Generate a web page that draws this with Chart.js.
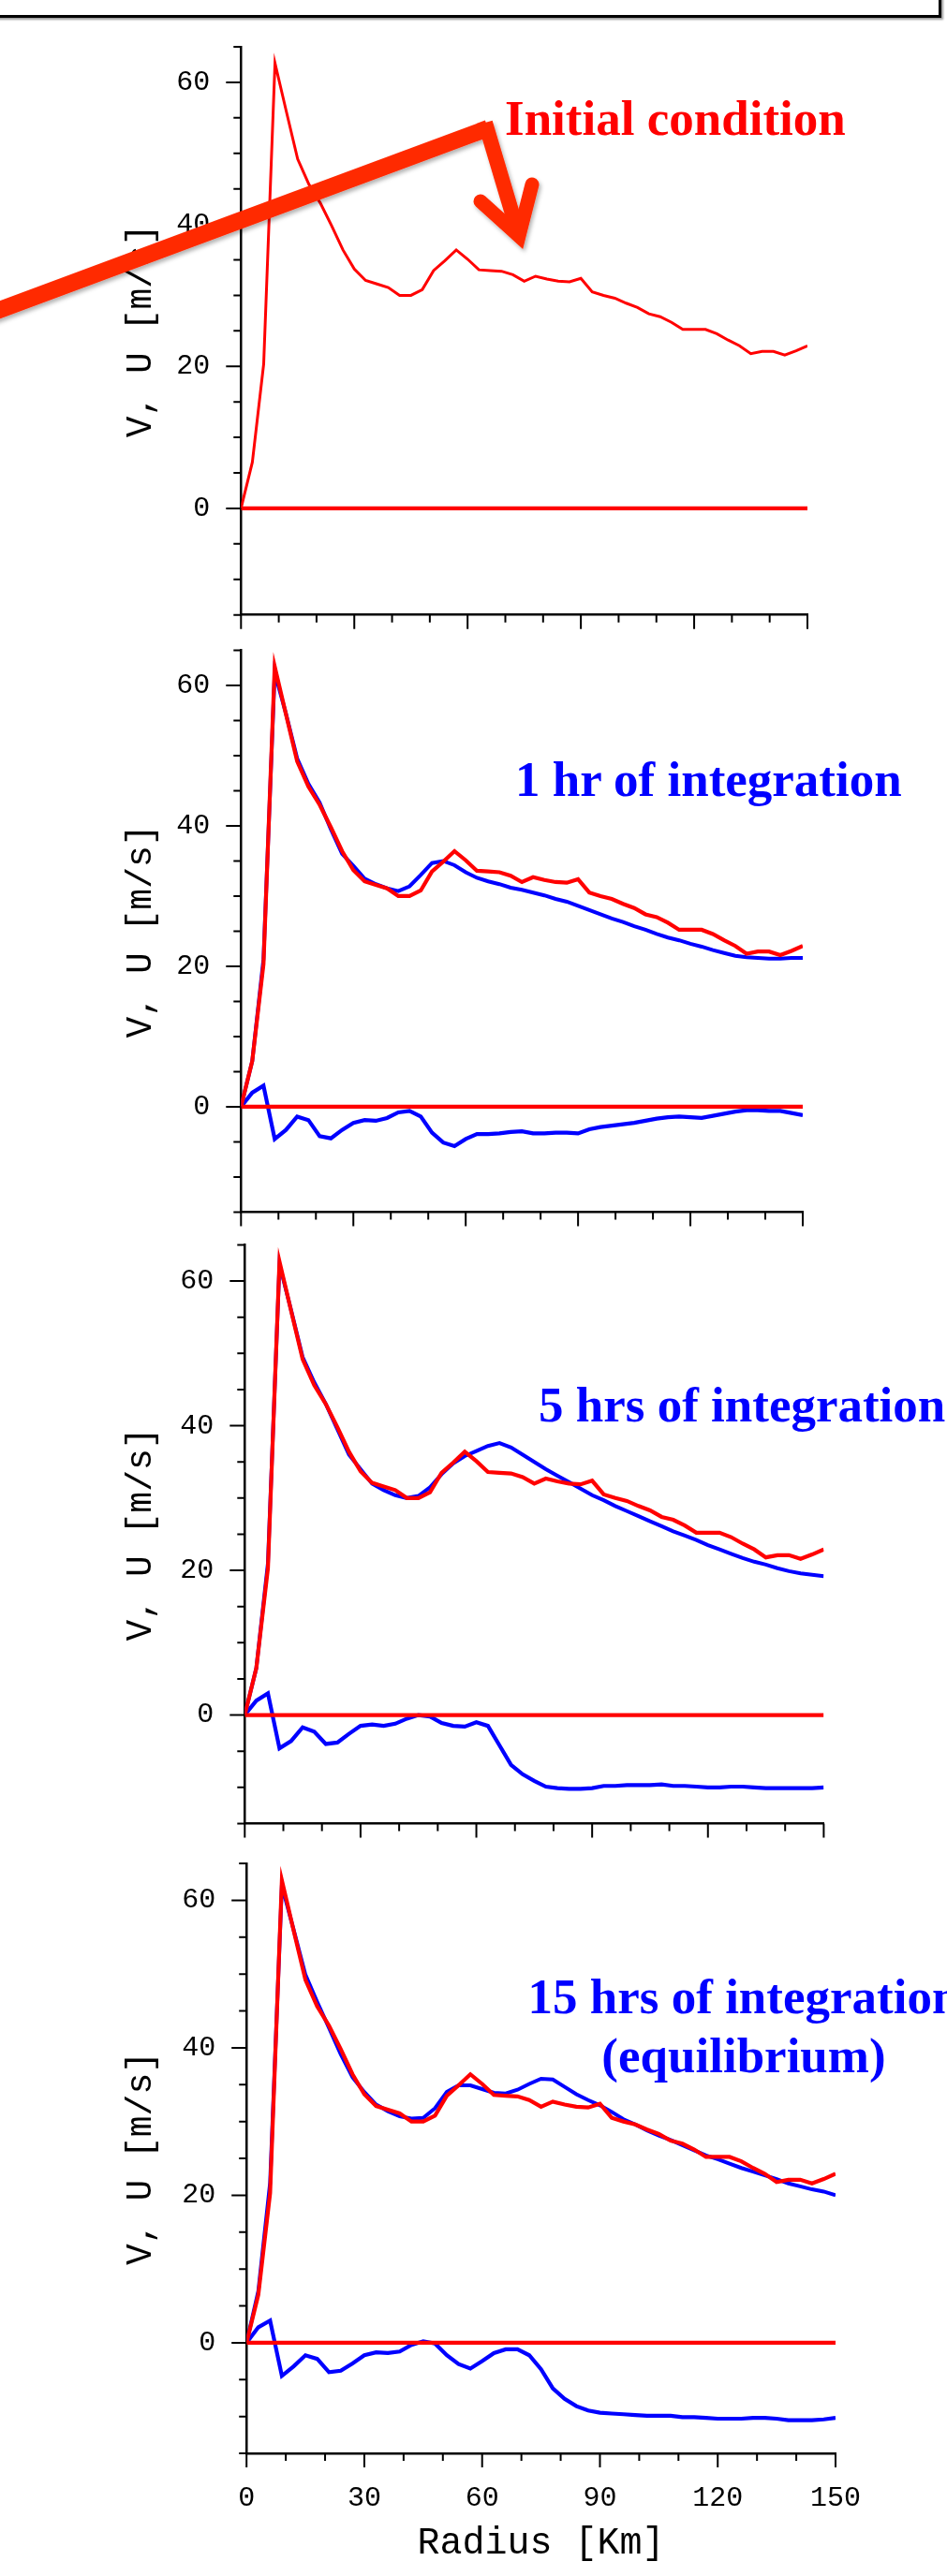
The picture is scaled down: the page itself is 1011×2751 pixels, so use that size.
<!DOCTYPE html>
<html>
<head>
<meta charset="utf-8">
<script src="https://cdn.jsdelivr.net/npm/chart.js@4.4.0/dist/chart.umd.min.js"></script>
<style>
  html, body { margin: 0; padding: 0; background: #fff; }
  body { width: 1011px; height: 2751px; position: relative; overflow: hidden; }
  canvas { position: absolute; left: 0; }
  #box { position: absolute; left: -10px; top: -10px; width: 1015px; height: 29px; box-sizing: border-box; border: 3px solid #000; box-shadow: 2px 2px 2px #999; }
  #notes { position: absolute; left: 0; top: 0; pointer-events: none; }
</style>
</head>
<body>
<div id="box"></div>
<canvas id="p1" width="1011" height="680" style="top:0px"></canvas>
<canvas id="p2" width="1011" height="636" style="top:680px"></canvas>
<canvas id="p3" width="1011" height="654" style="top:1316px"></canvas>
<canvas id="p4" width="1011" height="781" style="top:1970px"></canvas>

<svg id="notes" width="1011" height="2751" xmlns="http://www.w3.org/2000/svg">
  <defs>
    <filter id="sh" x="-20%" y="-20%" width="140%" height="140%">
      <feDropShadow dx="2" dy="3" stdDeviation="2" flood-color="#000" flood-opacity="0.3"/>
    </filter>
  </defs>
  <g filter="url(#sh)" stroke="#ff2a00" fill="none">
    <line x1="-60" y1="353" x2="521" y2="137" stroke-width="18"/>
    <line x1="518" y1="131" x2="554" y2="252" stroke-width="16"/>
    <polyline points="513,215 554,252 568,197" stroke-width="15" stroke-linecap="round" stroke-linejoin="miter" stroke-miterlimit="10"/>
  </g>
  <g font-family="'Liberation Serif', 'Times New Roman', serif" font-weight="bold" font-size="53">
    <text x="539" y="144" fill="#ff0000">Initial condition</text>
    <text x="550" y="850" fill="#0000ff">1 hr of integration</text>
    <text x="575" y="1518" fill="#0000ff">5 hrs of integration</text>
    <text x="794" y="2150" text-anchor="middle" fill="#0000ff">15 hrs of integration</text>
    <text x="794" y="2213" text-anchor="middle" fill="#0000ff">(equilibrium)</text>
  </g>
</svg>

<script>
// radius in km (every 3 km)
const radius = [0, 3, 6, 9, 12, 15, 18, 21, 24, 27, 30, 33, 36, 39, 42, 45, 48, 51, 54, 57, 60,
  63, 66, 69, 72, 75, 78, 81, 84, 87, 90, 93, 96, 99, 102, 105, 108, 111, 114, 117, 120,
  123, 126, 129, 132, 135, 138, 141, 144, 147, 150];

// initial condition (red)
const vInit = [0, 6.5, 20.3, 62.7, 55.9, 49.2, 45.6, 43.0, 39.8, 36.4, 33.7, 32.1, 31.6, 31.1, 30.0, 30.0, 30.8,
  33.5, 34.9, 36.4, 35.1, 33.6, 33.5, 33.4, 32.9, 32.0, 32.7, 32.3, 32.0, 31.9, 32.4, 30.5, 30.0, 29.6,
  28.9, 28.3, 27.4, 27.0, 26.2, 25.2, 25.2, 25.2, 24.6, 23.7, 22.9, 21.8, 22.1, 22.1, 21.6, 22.2, 22.9];
const uInit = [0, 0, 0, 0, 0, 0, 0, 0, 0, 0, 0, 0, 0, 0, 0, 0, 0, 0, 0, 0, 0, 0, 0, 0, 0, 0,
  0, 0, 0, 0, 0, 0, 0, 0, 0, 0, 0, 0, 0, 0, 0, 0, 0, 0, 0, 0, 0, 0, 0, 0, 0];

// 1 hr
const v1h = [0, 6.5, 21, 61.8, 56, 49.6, 46, 43.3, 39.5, 36, 34.3, 32.5, 31.7, 31.1, 30.7, 31.4, 33.0,
  34.7, 35.0, 34.4, 33.4, 32.6, 32.1, 31.7, 31.2, 30.9, 30.5, 30.1, 29.6, 29.2, 28.6, 28.0, 27.4, 26.8,
  26.3, 25.7, 25.2, 24.6, 24.1, 23.7, 23.2, 22.8, 22.3, 21.9, 21.5, 21.3, 21.2, 21.1, 21.1, 21.2, 21.2];
const u1h = [0, 2.0, 3.0, -4.6, -3.3, -1.4, -1.9, -4.2, -4.5, -3.3, -2.3, -1.9, -2.0, -1.6, -0.8, -0.6, -1.4,
  -3.7, -5.1, -5.6, -4.6, -3.9, -3.9, -3.8, -3.6, -3.5, -3.8, -3.8, -3.7, -3.7, -3.8, -3.2, -2.9, -2.7,
  -2.5, -2.3, -2.0, -1.7, -1.5, -1.4, -1.5, -1.6, -1.3, -1.0, -0.7, -0.5, -0.5, -0.6, -0.6, -0.9, -1.2];

// 5 hrs
const v5h = [0, 6.5, 21, 62.3, 56, 49.5, 46, 43, 39.5, 36, 34, 32.0, 31.1, 30.4, 30.0, 30.3, 31.5,
  33.3, 34.8, 35.8, 36.5, 37.2, 37.6, 37.0, 36.0, 35.0, 34.0, 33.1, 32.2, 31.3, 30.4, 29.7, 28.9, 28.2,
  27.5, 26.8, 26.1, 25.4, 24.8, 24.2, 23.5, 22.9, 22.3, 21.7, 21.2, 20.8, 20.3, 19.9, 19.6, 19.4, 19.2];
const u5h = [0, 2.0, 3.0, -4.6, -3.6, -1.7, -2.3, -4.0, -3.8, -2.6, -1.5, -1.3, -1.5, -1.2, -0.5, 0.0, -0.2,
  -1.1, -1.5, -1.6, -1.0, -1.5, -4.2, -6.9, -8.2, -9.1, -9.9, -10.1, -10.2, -10.2, -10.1, -9.8, -9.8, -9.7,
  -9.7, -9.7, -9.6, -9.8, -9.8, -9.9, -10.0, -10.0, -9.9, -9.9, -10.0, -10.1, -10.1, -10.1, -10.1, -10.1, -10.0];

// 15 hrs (equilibrium)
const v15h = [0, 7.0, 21.7, 62.0, 56, 49.9, 46.2, 42.7, 39.1, 36.0, 34.0, 32.3, 31.4, 30.7, 30.4, 30.5, 31.8,
  34.0, 34.9, 34.9, 34.4, 33.9, 33.8, 34.3, 35.1, 35.8, 35.7, 34.7, 33.7, 32.9, 32.2, 31.3, 30.3, 29.6,
  28.8, 28.1, 27.5, 26.8, 26.1, 25.4, 24.9, 24.3, 23.7, 23.2, 22.7, 22.2, 21.6, 21.2, 20.8, 20.5, 20.0];
const u15h = [0, 2.1, 3.0, -4.5, -3.2, -1.7, -2.2, -4.0, -3.8, -2.8, -1.7, -1.3, -1.4, -1.2, -0.3, 0.2, -0.1,
  -1.7, -2.9, -3.5, -2.5, -1.4, -0.9, -0.9, -1.7, -3.6, -6.2, -7.6, -8.6, -9.2, -9.5, -9.6, -9.7, -9.8,
  -9.9, -9.9, -9.9, -10.1, -10.1, -10.2, -10.3, -10.3, -10.3, -10.2, -10.2, -10.3, -10.5, -10.5, -10.5, -10.4, -10.2];

const yTickLabels = [0, 20, 40, 60];
const xTickLabels = [0, 30, 60, 90, 120, 150];

const RED = '#ff0000';
const BLUE = '#0000ff';
const MONO = "'Liberation Mono', 'Courier New', monospace";

function pts(ys) {
  return radius.map((r, i) => ({ x: r, y: ys[i] }));
}

function line(ys, color, w) {
  return { data: pts(ys), borderColor: color, borderWidth: w, pointRadius: 0, tension: 0, fill: false };
}

// major + minor tick marks, drawn outside the axes
const tickMarks = {
  id: 'tickMarks',
  afterDraw(chart) {
    const { ctx, chartArea: a, scales: { x, y } } = chart;
    ctx.save();
    ctx.strokeStyle = '#000';
    ctx.lineWidth = 2;
    ctx.beginPath();
    for (let v = -15; v <= 65; v += 5) {
      const py = y.getPixelForValue(v);
      const len = v % 20 === 0 ? 16 : 8;
      ctx.moveTo(a.left - len, py);
      ctx.lineTo(a.left, py);
    }
    for (let v = 0; v <= 150; v += 10) {
      const px = x.getPixelForValue(v);
      const len = v % 30 === 0 ? 15 : 8;
      ctx.moveTo(px, a.bottom);
      ctx.lineTo(px, a.bottom + len);
    }
    ctx.stroke();
    ctx.restore();
  }
};

// box: chart area edges in canvas pixels
function makePanel(id, box, datasets, last) {
  const canvas = document.getElementById(id);
  return new Chart(canvas, {
    type: 'line',
    data: { datasets },
    options: {
      responsive: false,
      animation: false,
      layout: { padding: { left: 0, top: box.top, right: 1011 - box.right, bottom: 0 } },
      plugins: { legend: { display: false }, tooltip: { enabled: false } },
      scales: {
        x: {
          type: 'linear', min: 0, max: 150,
          grid: { display: false, drawTicks: false },
          border: { display: true, color: '#000', width: 2.5 },
          afterBuildTicks: s => { s.ticks = xTickLabels.map(v => ({ value: v })); },
          afterFit: s => { s.height = canvas.height - box.bottom; s.paddingLeft = 0; s.paddingRight = 0; },
          ticks: { display: last, color: '#000', font: { family: MONO, size: 30 }, padding: 30, maxRotation: 0, autoSkip: false },
          title: { display: last, text: 'Radius [Km]', color: '#000', font: { family: MONO, size: 40 }, padding: { top: 0, bottom: 11 } }
        },
        y: {
          type: 'linear', min: -15, max: 65,
          grid: { display: false, drawTicks: false },
          border: { display: true, color: '#000', width: 2.5 },
          afterBuildTicks: s => { s.ticks = yTickLabels.map(v => ({ value: v })); },
          afterFit: s => { s.width = box.left; s.paddingTop = 0; s.paddingBottom = 0; },
          ticks: { color: '#000', font: { family: MONO, size: 30 }, padding: 33 },
          title: { display: true, text: 'V, U [m/s]', color: '#000', font: { family: MONO, size: 38 }, padding: { top: 128, bottom: 0 } }
        }
      }
    },
    plugins: [tickMarks]
  });
}

makePanel('p1', { left: 257.3, right: 862, top: 50, bottom: 656.7 }, [
  line(vInit, RED, 3),
  line(uInit, RED, 4.2)
], false);

makePanel('p2', { left: 257.3, right: 857, top: 14.5, bottom: 614.4 }, [
  line(vInit, RED, 4.2),
  line(uInit, RED, 4.2),
  line(v1h, BLUE, 4),
  line(u1h, BLUE, 4.2)
], false);

makePanel('p3', { left: 261.3, right: 879.4, top: 13.5, bottom: 631.4 }, [
  line(vInit, RED, 4.2),
  line(uInit, RED, 4.2),
  line(v5h, BLUE, 4),
  line(u5h, BLUE, 4.2)
], false);

makePanel('p4', { left: 263.2, right: 892, top: 20, bottom: 650 }, [
  line(vInit, RED, 4.2),
  line(uInit, RED, 4.2),
  line(v15h, BLUE, 4),
  line(u15h, BLUE, 4.2)
], true);
</script>
</body>
</html>
